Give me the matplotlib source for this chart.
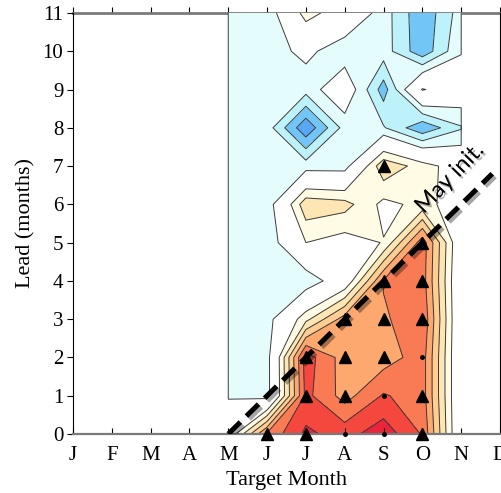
import numpy as np
import matplotlib
matplotlib.use('Agg')
import matplotlib.pyplot as plt
import matplotlib.patheffects as pe

# Month axis labels (J..D) and the target months that carry data (May..Nov)
month_labels = ['J', 'F', 'M', 'A', 'M', 'J', 'J', 'A', 'S', 'O', 'N', 'D']
target_months = [4, 5, 6, 7, 8, 9, 10]
leads = list(range(12))

# Skill difference, one row per lead (0..11), columns May..Nov
skill = [
    [0.00, 0.52, 0.72, 0.66, 0.76, 0.59, -0.05],
    [-0.11, -0.15, 0.63, 0.46, 0.61, 0.55, -0.05],
    [-0.15, -0.15, 0.65, 0.45, 0.45, 0.55, -0.05],
    [-0.15, -0.15, 0.17, 0.45, 0.48, 0.59, -0.05],
    [-0.15, -0.15, -0.18, 0.00, 0.51, 0.55, -0.05],
    [-0.15, -0.18, 0.10, 0.05, 0.105, 0.56, -0.03],
    [-0.15, -0.17, 0.27, 0.24, 0.07, 0.13, 0.05],
    [-0.15, -0.15, -0.15, -0.15, 0.28, 0.15, 0.03],
    [-0.15, -0.15, -0.48, -0.16, -0.19, -0.38, -0.21],
    [-0.15, -0.16, -0.16, 0.00, -0.35, 0.11, 0.00],
    [-0.15, -0.15, -0.07, -0.17, -0.15, -0.37, -0.11],
    [-0.15, -0.18, 0.15, 0.02, -0.15, -0.38, -0.15],
]

# Significant points (triangles) and weaker ones (dots)
sig_month = [5, 6, 9, 6, 7, 9, 6, 7, 8, 7, 8, 9, 8, 9, 9, 8]
sig_lead = [0, 0, 0, 1, 1, 1, 2, 2, 2, 3, 3, 3, 4, 4, 5, 7]
dot_month = [7, 8, 8, 9]
dot_lead = [0, 0, 1, 2]

levels = [-1.0, -0.4, -0.3, -0.2, -0.1, 0.1, 0.2, 0.3, 0.4, 0.5, 0.6, 0.7, 1.0]
colors = ['#58a6f6', '#72c6f7', '#bdf2fb', '#e5fcfd', '#ffffff', '#fffbe4',
          '#fde6b3', '#fdcd92', '#fca86f', '#f87b53', '#f4483e', '#e8253b']

init_month = 4  # May initialisation
init_label = 'May init.'

z = np.array(skill)
X, Y = np.meshgrid(target_months, leads)

fig = plt.figure(figsize=(5.02, 4.93), dpi=100)
ax = fig.add_axes([0.1454, 0.1197, 0.8506, 0.854])

ax.contourf(X, Y, z, levels=levels, colors=colors)

# contour lines, padded with a neutral column so the data border gets outlined
zp = np.pad(z, ((0, 0), (1, 1)), constant_values=0.0)
xp = [target_months[0] - 0.002] + target_months + [target_months[-1] + 0.002]
Xp, Yp = np.meshgrid(xp, leads)
ax.contour(Xp, Yp, zp, levels=levels[1:-1], colors='#3a3a3a', linewidths=0.7,
           linestyles='solid')

# significance markers
ax.plot(sig_month, sig_lead, '^', color='black', markersize=9, clip_on=False, zorder=5)
ax.plot(dot_month, dot_lead, 'o', color='black', markersize=2.5, clip_on=False, zorder=5)

# May initialisation diagonal
line_leads = np.array([0, 6.8])
ax.plot(init_month + line_leads, line_leads, color='black', linewidth=3.6,
        dashes=(3.4, 1.7), zorder=6,
        path_effects=[pe.SimpleLineShadow(offset=(2, -2), alpha=0.35), pe.Normal()])
ax.text(9.7, 6.68, init_label, rotation=46, rotation_mode='anchor',
        ha='center', va='center', fontsize=16.5, family='Lato', zorder=7,
        path_effects=[pe.withSimplePatchShadow(offset=(1.5, -1.5), alpha=0.3)])

ax.set_xlim(0, 11)
ax.set_ylim(0, 11)
ax.set_xticks(range(12))
ax.set_xticklabels(month_labels)
ax.set_yticks(range(12))

ax.set_xlabel('Target Month', family='Liberation Serif', fontsize=16, labelpad=4)
ax.set_ylabel('Lead (months)', family='Liberation Serif', fontsize=16, labelpad=5)
for lab in ax.get_xticklabels() + ax.get_yticklabels():
    lab.set_family('Liberation Serif')
    lab.set_fontsize(15)

ax.tick_params(axis='x', direction='in', length=4, pad=9, bottom=True, top=False)
ax.tick_params(axis='y', direction='out', length=4, pad=3, left=True, right=True)

top = ax.secondary_xaxis('top')
top.set_xticks(range(12))
top.tick_params(direction='out', length=4, labeltop=False)
top.spines['top'].set_color('#7a7a7a')
top.spines['top'].set_linewidth(2)

ax.spines['top'].set_visible(False)
ax.spines['bottom'].set_color('#7a7a7a')
ax.spines['bottom'].set_linewidth(1.6)
ax.spines['left'].set_color('black')
ax.spines['right'].set_color('black')

fig.savefig('out.png', dpi=100)
